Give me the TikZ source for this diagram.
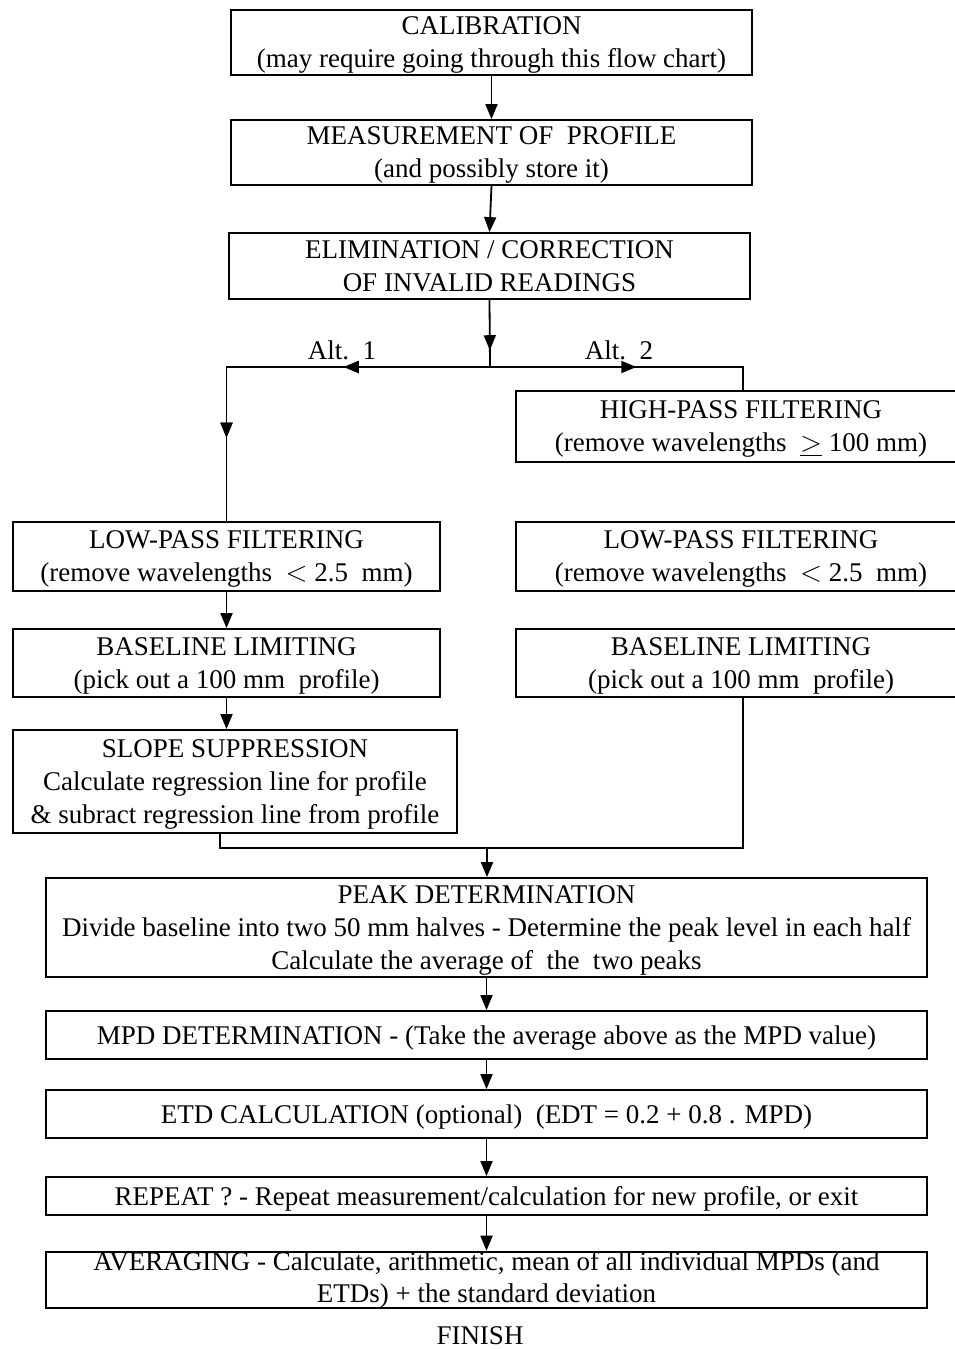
\documentclass[tikz,border=0pt]{standalone}
\usepackage{fontspec}
\setmainfont{Liberation Serif}
\usetikzlibrary{arrows.meta,decorations.markings}
\tikzset{
  box/.style={draw, line width=0.9pt, align=center, inner sep=1pt, text depth=0pt,
    font=\fontsize{13.5}{16.5}\selectfont},
  lbl/.style={font=\fontsize{13.5}{16.5}\selectfont},
  arr/.style={line width=0.9pt, -{Triangle[length=7.5pt,width=6pt]}},
  flow/.style={line width=0.9pt},
  midarr/.style={postaction={decorate}, decoration={markings,
    mark=at position #1 with {\arrow{Triangle[length=7.5pt,width=6pt]}}}},
}
\begin{document}
\begin{tikzpicture}[x=0.5pt,y=-0.5pt]
\useasboundingbox (0,0) rectangle (954,1349);
% main column, top
\node[box, minimum width=260.5pt, minimum height=32.5pt] (cal) at (491.5,42.5)
  {CALIBRATION\\(may require going through this flow chart)};
\node[box, minimum width=260.5pt, minimum height=32.5pt] (meas) at (491.5,152.5)
  {MEASUREMENT OF\ \ PROFILE\\(and possibly store it)};
\node[box, minimum width=260.5pt, minimum height=33pt] (elim) at (489.5,266)
  {ELIMINATION / CORRECTION\\OF INVALID READINGS};
% alternative 1
\node[box, minimum width=213.5pt, minimum height=34.5pt] (lowL) at (226.5,556.5)
  {LOW-PASS FILTERING\\(remove wavelengths\ \ $<$ 2.5\ \ mm)};
\node[box, minimum width=213.5pt, minimum height=34pt] (baseL) at (226.5,663)
  {BASELINE LIMITING\\(pick out a 100 mm\ \ profile)};
\node[box, minimum width=222pt, minimum height=51.5pt] (slope) at (235,781.5)
  {SLOPE SUPPRESSION\\Calculate regression line for profile\\\& subract regression line from profile};
% alternative 2
\node[box, minimum width=225pt, minimum height=35.5pt] (high) at (741,426.5)
  {HIGH-PASS FILTERING\\(remove wavelengths\ \ \underline{$>$} 100 mm)};
\node[box, minimum width=225pt, minimum height=34.5pt] (lowR) at (741,556.5)
  {LOW-PASS FILTERING\\(remove wavelengths\ \ $<$ 2.5\ \ mm)};
\node[box, minimum width=225pt, minimum height=34pt] (baseR) at (741,663)
  {BASELINE LIMITING\\(pick out a 100 mm\ \ profile)};
% main column, bottom
\node[box, minimum width=440.5pt, minimum height=49.5pt] (peak) at (486.5,927.5)
  {PEAK DETERMINATION\\Divide baseline into two 50 mm halves - Determine the peak level in each half\\Calculate the average of\ \ the\ \ two peaks};
\node[box, minimum width=440.5pt, minimum height=24pt] (mpd) at (486.5,1035)
  {MPD DETERMINATION - (Take the average above as the MPD value)};
\node[box, minimum width=440.5pt, minimum height=24pt] (etd) at (486.5,1114)
  {ETD CALCULATION (optional)\ \ (EDT = 0.2 + 0.8 . MPD)};
\node[box, minimum width=440.5pt, minimum height=19pt] (rep) at (486.5,1196)
  {REPEAT ? - Repeat measurement/calculation for new profile, or exit};
\node[box, minimum width=440.5pt, minimum height=28pt, inner sep=0pt,
  text depth=, font=\fontsize{13.5}{16}\selectfont] (avg) at (486.5,1280)
  {AVERAGING - Calculate, arithmetic, mean of all individual MPDs (and\\ETDs) + the standard deviation};
\node[lbl, anchor=base, inner sep=0pt] (fin) at (480,1344) {FINISH};
% connectors
\coordinate (split) at (490,367);
\coordinate (r) at (743,367);
\coordinate (m1) at (220,848);
\coordinate (m2) at (743,848);
\coordinate (m) at (487,848);
\draw[arr] (cal) -- (meas);
\draw[arr] (meas.south) -- (elim.north);
\draw[flow, midarr=0.75] (elim.south) -- (split);
\draw[flow, midarr=0.35, midarr=0.8] (split) -- (lowL.north |- split) -- (lowL.north);
\node[lbl, above] (alt1) at (342,367) {Alt.\ \ 1};
\draw[flow, midarr=0.53] (split) -- (r) -- (r |- high.north);
\node[lbl, above] (alt2) at (619,367) {Alt.\ \ 2};
\draw[arr] (lowL) -- (baseL);
\draw[arr] (baseL.south) -- (baseL.south |- slope.north);
\draw[flow] (slope.south -| m1) -- (m1) -- (m2) -- (m2 |- baseR.south);
\draw[arr] (m) -- (peak.north -| m);
\draw[arr] (peak) -- (mpd);
\draw[arr] (mpd) -- (etd);
\draw[arr] (etd) -- (rep);
\draw[arr] (rep) -- (avg);
\end{tikzpicture}
\end{document}
